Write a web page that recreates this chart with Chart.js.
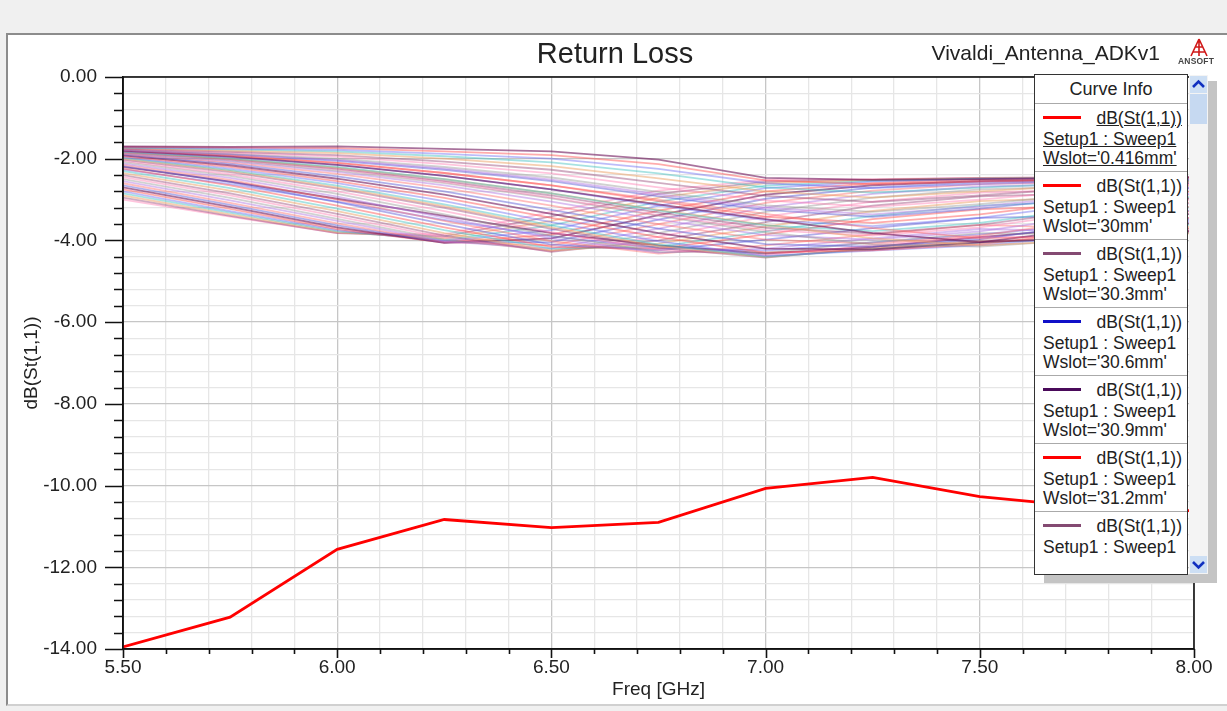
<!DOCTYPE html>
<html>
<head>
<meta charset="utf-8">
<script src="https://cdn.jsdelivr.net/npm/chart.js@4.4.1/dist/chart.umd.min.js"></script>
<style>
  body { margin: 0; background: #f0f0f0; font-family: "Liberation Sans", Arial, sans-serif; color: #222; }
  #frame { position: absolute; left: 6px; top: 33px; width: 1221px; height: 669px; background: #fff;
           border-left: 2px solid #8c8c8c; border-top: 2px solid #8c8c8c; border-bottom: 2px solid #d0d0d0; }
  #chart { position: absolute; left: 0; top: 0; }
  .txt { position: absolute; white-space: nowrap; }
  #legend { position: absolute; left: 1034px; top: 74px; width: 152px; height: 499px; background: #fff;
            border: 1.5px solid #333; overflow: hidden; font-size: 17.5px; }
  #legend .head { height: 28px; line-height: 28px; text-align: center; border-bottom: 1px solid #aaa; font-size: 18px; }
  #legend .item { position: relative; height: 67px; border-bottom: 1px solid #aaa; }
  #legend .swatch { position: absolute; left: 8px; top: 12px; width: 38px; height: 3px; }
  #legend .l1 { position: absolute; right: 5px; top: 3px; line-height: 22px; }
  #legend .l2 { position: absolute; left: 8px; top: 24px; line-height: 22px; }
  #legend .l3 { position: absolute; left: 8px; top: 43px; line-height: 22px; }
  #legend .sel span { text-decoration: underline; }
  #shadowR { position: absolute; left: 1208px; top: 81px; width: 9px; height: 502px; background: #c4c4c4; }
  #shadowB { position: absolute; left: 1044px; top: 574px; width: 173px; height: 9px; background: #c4c4c4; }
  #track { position: absolute; left: 1189px; top: 75px; width: 19px; height: 499px; background: #f4f4f4; }
  .btn { position: absolute; left: 1190px; width: 17px; height: 17px; background: #cddff4; }
  #thumb { position: absolute; left: 1190px; top: 94px; width: 17px; height: 30px; background: #c6d9f1; }
</style>
</head>
<body>
<div id="frame"></div>
<canvas id="chart" width="1227" height="711"></canvas>

<div class="txt" style="left:0;width:1230px;top:35px;text-align:center;font-size:29px;line-height:36px;">Return Loss</div>
<div class="txt" style="right:67px;top:41px;font-size:21px;line-height:24px;">Vivaldi_Antenna_ADKv1</div>
<svg class="txt" style="left:1180px;top:38px;" width="40" height="20" viewBox="0 0 40 20">
  <path d="M19 1 L11 18 M19 1 L27 18 M19 1 L19 18 M15 9 L23 9 M13 14 L25 14" stroke="#d01818" stroke-width="1.6" fill="none"/>
</svg>
<div class="txt" style="left:1178px;top:56px;font-size:8.5px;font-weight:bold;color:#444;letter-spacing:0.2px;">ANSOFT</div>

<div id="shadowR"></div>
<div id="shadowB"></div>
<div id="track"></div>
<div class="btn" style="top:76px;"><svg width="17" height="17"><path d="M3 11 L8.5 5.5 L14 11" stroke="#1030c0" stroke-width="2.6" fill="none"/></svg></div>
<div id="thumb"></div>
<div class="btn" style="top:556px;"><svg width="17" height="17"><path d="M3 6 L8.5 11.5 L14 6" stroke="#1030c0" stroke-width="2.6" fill="none"/></svg></div>
<div id="legend"><div class="head">Curve Info</div></div>

<script>
// frequency points of the sweep [GHz]
const freqGHz = [5.5, 5.75, 6.0, 6.25, 6.5, 6.75, 7.0, 7.25, 7.5, 7.75, 8.0];

// dB(St(1,1)) for Wslot='0.416mm' (the red curve)
const returnLossMain = [-13.95, -13.22, -11.56, -10.83, -11.03, -10.90, -10.07, -9.80, -10.27, -10.52, -10.62];

// parametric Wslot sweep, one row per curve
const sweepCurves = [
  [-1.70, -1.71, -1.70, -1.76, -1.82, -2.02, -2.47, -2.52, -2.50, -2.47, -2.45],
  [-1.71, -1.73, -1.74, -1.82, -1.91, -2.13, -2.53, -2.62, -2.56, -2.51, -2.47],
  [-1.72, -1.75, -1.78, -1.88, -2.00, -2.25, -2.60, -2.72, -2.62, -2.55, -2.50],
  [-1.73, -1.77, -1.82, -1.94, -2.09, -2.36, -2.70, -2.83, -2.71, -2.60, -2.53],
  [-1.74, -1.80, -1.86, -2.00, -2.18, -2.48, -2.80, -2.95, -2.80, -2.65, -2.56],
  [-1.75, -1.83, -1.91, -2.07, -2.27, -2.59, -2.91, -3.06, -2.90, -2.71, -2.59],
  [-1.76, -1.85, -1.95, -2.13, -2.36, -2.70, -3.02, -3.18, -3.00, -2.78, -2.62],
  [-1.77, -1.88, -2.00, -2.20, -2.46, -2.81, -3.14, -3.30, -3.11, -2.87, -2.67],
  [-1.78, -1.89, -2.03, -2.24, -2.51, -2.87, -3.20, -3.36, -3.17, -2.91, -2.70],
  [-1.78, -1.92, -2.10, -2.35, -2.65, -3.00, -3.35, -3.70, -3.95, -3.90, -3.70],
  [-1.79, -1.90, -2.05, -2.27, -2.55, -2.92, -3.25, -3.42, -3.22, -2.95, -2.72],
  [-1.80, -1.95, -2.15, -2.42, -2.75, -3.12, -3.48, -3.82, -4.04, -3.95, -3.76],
  [-1.81, -1.93, -2.10, -2.35, -2.65, -3.04, -3.42, -3.57, -3.36, -3.05, -2.80],
  [-1.82, -1.96, -2.15, -2.42, -2.75, -3.15, -3.50, -3.65, -3.45, -3.12, -2.85],
  [-1.83, -1.99, -2.20, -2.50, -2.85, -3.27, -3.63, -3.77, -3.57, -3.22, -2.92],
  [-1.84, -2.00, -2.22, -2.50, -2.85, -3.25, -3.62, -3.95, -4.12, -4.00, -3.82],
  [-1.84, -2.01, -2.24, -2.54, -2.90, -3.32, -3.69, -3.83, -3.62, -3.27, -2.96],
  [-1.85, -2.02, -2.26, -2.57, -2.95, -3.38, -3.75, -3.88, -3.68, -3.32, -3.00],
  [-1.86, -2.04, -2.29, -2.60, -2.97, -3.40, -3.80, -4.10, -4.15, -3.98, -3.80],
  [-1.87, -2.06, -2.32, -2.65, -3.05, -3.49, -3.87, -3.98, -3.78, -3.42, -3.08],
  [-1.88, -2.09, -2.37, -2.72, -3.15, -3.60, -3.98, -4.08, -3.88, -3.52, -3.16],
  [-1.90, -2.12, -2.43, -2.80, -3.25, -3.71, -4.09, -4.15, -3.97, -3.62, -3.25],
  [-1.92, -2.16, -2.49, -2.88, -3.35, -3.82, -4.20, -4.22, -4.05, -3.72, -3.34],
  [-1.94, -2.20, -2.55, -2.96, -3.45, -3.92, -4.30, -4.24, -4.09, -3.81, -3.43],
  [-1.96, -2.24, -2.60, -3.04, -3.55, -4.02, -4.38, -4.25, -4.12, -3.90, -3.52],
  [-1.98, -2.28, -2.66, -3.12, -3.63, -4.10, -4.40, -4.22, -4.06, -3.94, -3.60],
  [-2.00, -2.30, -2.70, -3.16, -3.68, -4.14, -4.41, -4.20, -4.03, -3.96, -3.65],
  [-2.02, -2.33, -2.73, -3.20, -3.72, -4.18, -4.42, -4.18, -4.00, -3.98, -3.70],
  [-2.05, -2.38, -2.80, -3.28, -3.80, -4.23, -4.36, -4.12, -3.91, -3.92, -3.76],
  [-2.08, -2.42, -2.86, -3.36, -3.88, -4.28, -4.30, -4.05, -3.82, -3.85, -3.80],
  [-2.12, -2.47, -2.93, -3.44, -3.95, -4.30, -4.20, -3.95, -3.72, -3.78, -3.80],
  [-2.15, -2.52, -3.00, -3.52, -4.02, -4.32, -4.12, -3.85, -3.62, -3.70, -3.78],
  [-2.18, -2.57, -3.06, -3.60, -4.10, -4.24, -3.98, -3.70, -3.45, -3.40, -3.50],
  [-2.20, -2.56, -2.98, -3.40, -3.82, -4.12, -4.32, -4.16, -3.92, -3.70, -3.58],
  [-2.24, -2.65, -3.15, -3.68, -4.16, -4.20, -3.85, -3.48, -3.24, -3.15, -3.30],
  [-2.26, -2.62, -3.05, -3.50, -3.90, -4.18, -4.25, -4.05, -3.85, -3.62, -3.45],
  [-2.30, -2.72, -3.22, -3.75, -4.20, -4.15, -3.78, -3.40, -3.15, -3.05, -3.20],
  [-2.35, -2.78, -3.28, -3.82, -4.25, -4.08, -3.66, -3.28, -3.04, -2.95, -3.09],
  [-2.40, -2.85, -3.35, -3.88, -4.28, -4.00, -3.55, -3.15, -2.92, -2.85, -2.98],
  [-2.45, -2.90, -3.41, -3.93, -4.27, -3.91, -3.42, -3.05, -2.83, -2.76, -2.89],
  [-2.50, -2.96, -3.47, -3.98, -4.25, -3.82, -3.30, -2.95, -2.75, -2.68, -2.80],
  [-2.55, -3.02, -3.52, -4.02, -4.20, -3.71, -3.19, -2.86, -2.68, -2.62, -2.72],
  [-2.60, -3.08, -3.58, -4.04, -4.12, -3.60, -3.08, -2.78, -2.62, -2.57, -2.65],
  [-2.65, -3.13, -3.63, -4.05, -4.04, -3.49, -2.98, -2.71, -2.58, -2.54, -2.60],
  [-2.70, -3.18, -3.68, -4.06, -3.95, -3.38, -2.88, -2.65, -2.55, -2.52, -2.55],
  [-2.75, -3.23, -3.72, -4.05, -3.86, -3.27, -2.80, -2.60, -2.52, -2.50, -2.52],
  [-2.80, -3.28, -3.75, -4.02, -3.75, -3.15, -2.72, -2.56, -2.50, -2.48, -2.50],
  [-2.85, -3.32, -3.78, -3.99, -3.63, -3.05, -2.66, -2.54, -2.49, -2.47, -2.48],
  [-2.90, -3.36, -3.80, -3.95, -3.52, -2.95, -2.60, -2.52, -2.48, -2.47, -2.47],
  [-2.95, -3.40, -3.82, -3.90, -3.41, -2.86, -2.56, -2.51, -2.47, -2.46, -2.46],
  [-3.00, -3.42, -3.82, -3.85, -3.30, -2.78, -2.52, -2.50, -2.47, -2.46, -2.46]
];

const sweepColors = [
  'rgba(110,20,90,0.6)', 'rgba(255,70,70,0.45)', 'rgba(90,90,240,0.4)', 'rgba(60,190,190,0.45)',
  'rgba(235,160,100,0.5)', 'rgba(150,70,120,0.45)', 'rgba(255,110,170,0.4)', 'rgba(140,140,140,0.4)',
  'rgba(170,110,225,0.45)', 'rgba(255,90,90,0.4)', 'rgba(80,80,210,0.45)'
];

// legend (Curve Info) entries
const legendWslot = ["0.416mm", "30mm", "30.3mm", "30.6mm", "30.9mm", "31.2mm", null];
const legendColors = ['#ff0000', '#ff0000', '#844a72', '#1010c8', '#4a0a5a', '#ff0000', '#844a72'];

const yMajor = v => Math.abs(v / 2 - Math.round(v / 2)) < 1e-6;
const xMajor = v => Math.abs(v * 2 - Math.round(v * 2)) < 1e-6;

const datasets = [{
  data: freqGHz.map((f, i) => ({ x: f, y: returnLossMain[i] })),
  borderColor: '#ff0000',
  borderWidth: 2.8,
  pointRadius: 0
}];
sweepCurves.forEach((row, k) => {
  datasets.push({
    data: freqGHz.map((f, i) => ({ x: f, y: row[i] })),
    borderColor: sweepColors[k % sweepColors.length],
    borderWidth: 1.8,
    pointRadius: 0
  });
});

const frameTicks = {
  id: 'frameTicks',
  afterDraw(chart) {
    const { ctx, chartArea: a, scales: { x, y } } = chart;
    ctx.save();
    ctx.strokeStyle = '#111';
    ctx.lineWidth = 1.6;
    ctx.strokeRect(a.left, a.top, a.right - a.left, a.bottom - a.top);
    ctx.beginPath();
    y.ticks.forEach(t => {
      const py = Math.round(y.getPixelForValue(t.value)) + 0.5;
      ctx.moveTo(a.left - (yMajor(t.value) ? 18 : 9), py);
      ctx.lineTo(a.left, py);
    });
    x.ticks.forEach(t => {
      const px = Math.round(x.getPixelForValue(t.value)) + 0.5;
      ctx.moveTo(px, a.bottom);
      ctx.lineTo(px, a.bottom + (xMajor(t.value) ? 9 : 5));
    });
    ctx.stroke();
    ctx.restore();
  }
};

const font = { family: '"Liberation Sans", Arial, sans-serif', size: 19 };

new Chart(document.getElementById('chart'), {
  type: 'line',
  data: { datasets },
  options: {
    responsive: false,
    animation: false,
    devicePixelRatio: 1,
    layout: { padding: { left: 16, right: 33, top: 77, bottom: 6 } },
    plugins: { legend: { display: false }, tooltip: { enabled: false } },
    scales: {
      x: {
        type: 'linear', min: 5.5, max: 8.0,
        afterFit: s => { s.height = 56; },
        ticks: {
          stepSize: 0.1, autoSkip: false, maxRotation: 0, padding: 7, color: '#222', font,
          callback: v => xMajor(v) ? v.toFixed(2) : ''
        },
        grid: { drawTicks: false, lineWidth: 1.3, color: c => xMajor(c.tick.value) ? '#c6c6c6' : '#e6e6e6' },
        border: { color: '#111', width: 1.6 },
        title: { display: true, text: 'Freq [GHz]', color: '#222', font, padding: { top: 2, bottom: 4 } }
      },
      y: {
        type: 'linear', min: -14, max: 0,
        afterFit: s => { s.width = 107; },
        ticks: {
          stepSize: 0.4, autoSkip: false, padding: 26, color: '#222', font,
          callback: v => yMajor(v) ? v.toFixed(2) : ''
        },
        grid: { drawTicks: false, lineWidth: 1.3, color: c => yMajor(c.tick.value) ? '#c6c6c6' : '#e6e6e6' },
        border: { color: '#111', width: 1.6 },
        title: { display: true, text: 'dB(St(1,1))', color: '#222', font, padding: { top: 4, bottom: 2 } }
      }
    }
  },
  plugins: [frameTicks]
});

// Curve Info box
const legendBox = document.getElementById('legend');
legendWslot.forEach((w, i) => {
  const item = document.createElement('div');
  item.className = 'item' + (i === 0 ? ' sel' : '');
  item.innerHTML =
    '<div class="swatch" style="background:' + legendColors[i] + '"></div>' +
    '<div class="l1"><span>dB(St(1,1))</span></div>' +
    '<div class="l2"><span>Setup1 : Sweep1</span></div>' +
    (w ? '<div class="l3"><span>Wslot=\'' + w + '\'</span></div>' : '');
  legendBox.appendChild(item);
});
</script>
</body>
</html>
